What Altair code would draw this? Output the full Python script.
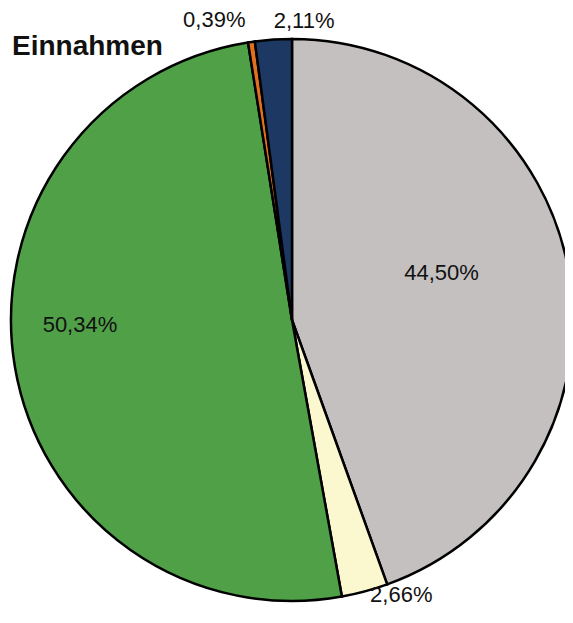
import altair as alt
import pandas as pd

# Data (clockwise from 12 o'clock)
categories = ["Steuern", "Gebühren", "Zuweisungen", "Zinsen", "Sonstige"]
values = [44.50, 2.66, 50.34, 0.39, 2.11]
colors = ["#C4C0BF", "#FBF8CF", "#50A048", "#E2701F", "#1E3864"]

df = pd.DataFrame({"cat": categories, "value": values, "order": list(range(len(values)))})

CX, CY, R = 284, 312, 281

base = alt.Chart(df)

pie = base.mark_arc(outerRadius=R, stroke="black", strokeWidth=2.5).encode(
    theta=alt.Theta("value:Q", stack=True),
    order=alt.Order("order:Q", sort="ascending"),
    color=alt.Color("cat:N", scale=alt.Scale(domain=categories, range=colors), legend=None),
    x=alt.value(CX),
    y=alt.value(CY),
)

lab_base = base.transform_window(
    cum="sum(value)", sort=[alt.SortField("order", order="ascending")], frame=[None, 0]
).transform_joinaggregate(
    total="sum(value)"
).transform_calculate(
    mid="(datum.cum - datum.value / 2) / datum.total * 2 * PI",
    label="replace(format(datum.value, '.2f'), '.', ',') + '%'",
)

# per-label placement (radius, dx, dy) like the spreadsheet's label positions
placements = {
    "Steuern": (164, -12, -19),
    "Gebühren": (306, 30, -21),
    "Zuweisungen": (211, -4, -30),
    "Zinsen": (310, -33, 7),
    "Sonstige": (300, 32, 0),
}

layers = [pie]
for cat, (r, dx, dy) in placements.items():
    layers.append(
        lab_base.transform_filter(alt.datum.cat == cat)
        .mark_text(font="Liberation Sans", fontSize=22, color="#111111", dx=dx, dy=dy,
                   align="center", baseline="middle")
        .encode(
            theta=alt.Theta("mid:Q", scale=None, stack=None),
            radius=alt.value(r),
            x=alt.value(CX),
            y=alt.value(CY),
            text="label:N",
        )
    )

title = alt.Chart(pd.DataFrame({"t": ["Einnahmen"]})).mark_text(
    font="Liberation Sans", fontSize=28, fontWeight="bold", color="#111111",
    align="left", baseline="alphabetic",
).encode(x=alt.value(4), y=alt.value(47), text="t:N")
layers.append(title)

chart = alt.layer(*layers).properties(
    width=557, height=600,
    autosize=alt.AutoSizeParams(type="none"),
    padding=0,
).configure_view(stroke=None)

chart.save("out.html", embed_options={"renderer": "svg", "actions": False})
